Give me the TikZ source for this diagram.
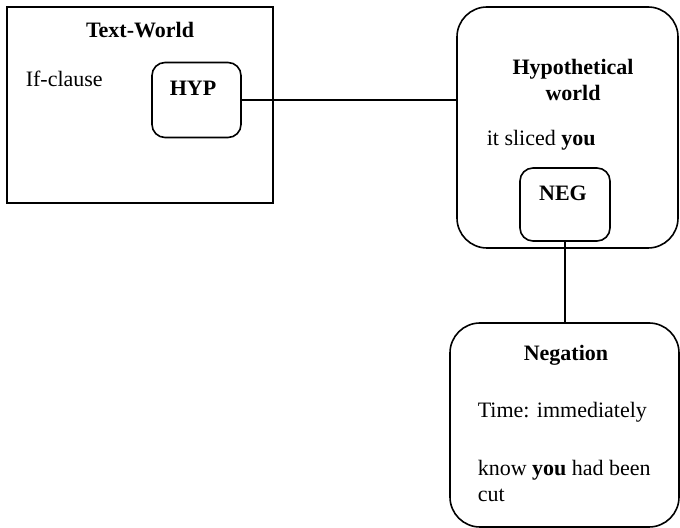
\documentclass[tikz,border=0pt]{standalone}
\usepackage{fontspec}
\setmainfont{Liberation Serif}
\usepackage{tikz}

\begin{document}
\begin{tikzpicture}[x=0.5pt,y=-0.5pt,line width=0.8pt,every node/.style={font=\fontsize{11}{13}\selectfont},world/.style={draw,inner sep=0pt,rounded corners=15pt},subworld/.style={draw,inner sep=0pt,rounded corners=6.5pt},label text/.style={inner sep=0pt,align=left,anchor=west}]
\useasboundingbox (0,0) rectangle (680,528);

% Text-World and its HYP sub-world
\node[draw,inner sep=0pt,minimum width=133pt,minimum height=98pt] (tw) at (140,105) {};
\node (twtitle) at (140,30) {\textbf{Text-World}};
\node[label text] (ifclause) at (25,79) {If-clause};
\node[subworld,minimum width=44.5pt,minimum height=37.5pt] (hyp) at (196.5,100) {};
\node (hyptitle) at (193,88) {\textbf{HYP}};

% Hypothetical world with NEG
\node[world,minimum width=110.5pt,minimum height=120.5pt] (hw) at (567.5,127.5) {};
\node[align=center] (hwtitle) at (573,80) {\textbf{Hypothetical}\\\textbf{world}};
\node[label text] (sliced) at (486,140) {it sliced \textbf{you}};
\node[subworld,minimum width=45pt,minimum height=36.5pt] (neg) at (565,204.5) {};
\node (negtitle) at (563,193) {\textbf{NEG}};

% Negation world
\node[world,minimum width=114.5pt,minimum height=102pt] (nw) at (564.5,425) {};
\node (nwtitle) at (566,355) {\textbf{Negation}};
\node[label text] (time) at (477,412) {Time: immediately};
\node[label text] (know) at (477,480.5) {know \textbf{you} had been\\cut};

\draw (hyp.east) -- (hyp.east -| hw.west);
\draw (neg.south) -- (neg.south |- nw.north);
\end{tikzpicture}
\end{document}
